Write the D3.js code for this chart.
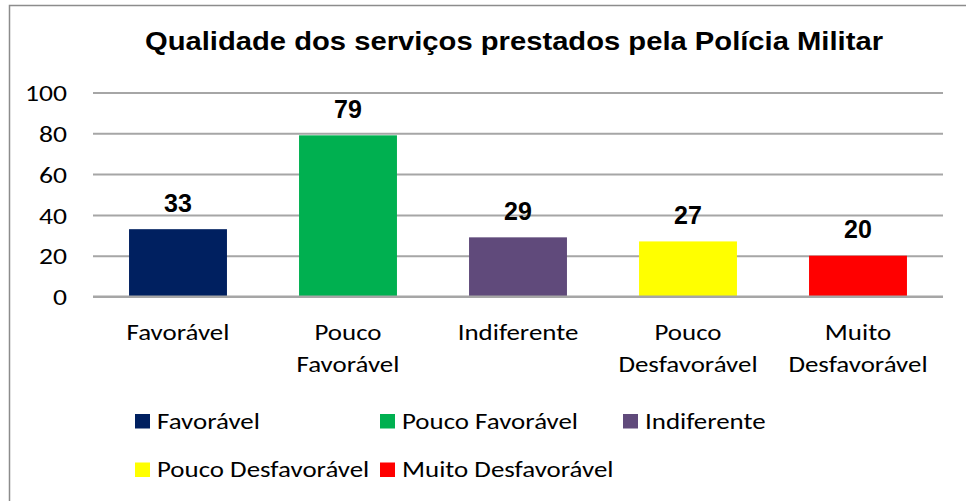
<!DOCTYPE html>
<html>
<head>
<meta charset="utf-8">
<script src="https://cdn.jsdelivr.net/npm/d3@7"></script>
<style>
  html, body { margin: 0; padding: 0; background: #fff; }
  svg { display: block; }
</style>
</head>
<body>
<svg id="chart" width="966" height="501"></svg>
<script>
const title = "Qualidade dos serviços prestados pela Polícia Militar";
const categories = ["Favorável", "Pouco Favorável", "Indiferente", "Pouco Desfavorável", "Muito Desfavorável"];
const values = [33, 79, 29, 27, 20];
const colors = ["#002060", "#00B050", "#604A7B", "#FFFF00", "#FF0000"];
const yTicks = [0, 20, 40, 60, 80, 100];

const svg = d3.select("#chart");
const W = 966, H = 501;
const plot = { left: 93, right: 943, top: 92.5, bottom: 296.5 };
const sansCal = "Carlito, Calibri, Lato, sans-serif";
const sansArial = "'Liberation Sans', Arial, sans-serif";
const calSize = 23;

// stretch a text node horizontally by factor k (Calibri-like width)
function stretch(node, k) {
  const len = node.getComputedTextLength();
  d3.select(node).attr("textLength", len * k).attr("lengthAdjust", "spacingAndGlyphs");
}

// outer frame
svg.append("rect")
  .attr("x", 9.5).attr("y", 5.5)
  .attr("width", W + 10).attr("height", H + 10)
  .attr("fill", "#fff").attr("stroke", "#8c8c8c").attr("stroke-width", 1.5);

// title
svg.append("text")
  .attr("x", 514).attr("y", 50)
  .attr("text-anchor", "middle")
  .attr("font-family", sansArial).attr("font-weight", "bold")
  .attr("font-size", 26)
  .attr("textLength", 738).attr("lengthAdjust", "spacingAndGlyphs")
  .attr("fill", "#000")
  .text(title);

const x = d3.scaleBand()
  .domain(categories)
  .range([plot.left, plot.right])
  .paddingInner(0.424)
  .paddingOuter(0.212);

const y = d3.scaleLinear().domain([0, 100]).range([plot.bottom, plot.top]);

// y axis with gridlines
const yAxis = d3.axisLeft(y)
  .tickValues(yTicks)
  .tickSize(-(plot.right - plot.left))
  .tickPadding(26)
  .tickFormat(d3.format("d"));

const gy = svg.append("g")
  .attr("transform", `translate(${plot.left},0)`)
  .call(yAxis);
gy.select(".domain").remove();
gy.selectAll(".tick line").attr("stroke", "#a6a6a6").attr("stroke-width", 2);
gy.selectAll(".tick text")
  .attr("font-family", sansCal).attr("font-size", calSize)
  .attr("fill", "#000").attr("dy", "0.36em")
  .each(function() { stretch(this, 1.2); });

// bars
svg.append("g").selectAll("rect")
  .data(categories)
  .join("rect")
  .attr("x", d => x(d))
  .attr("y", (d, i) => y(values[i]))
  .attr("width", x.bandwidth())
  .attr("height", (d, i) => y(0) - y(values[i]))
  .attr("fill", (d, i) => colors[i]);

// axis baseline on top
svg.append("line")
  .attr("x1", plot.left).attr("x2", plot.right)
  .attr("y1", y(0)).attr("y2", y(0))
  .attr("stroke", "#a6a6a6").attr("stroke-width", 2);

// value labels
svg.append("g").selectAll("text")
  .data(categories)
  .join("text")
  .attr("x", d => x(d) + x.bandwidth() / 2)
  .attr("y", (d, i) => y(values[i]) - 17.5)
  .attr("text-anchor", "middle")
  .attr("font-family", sansArial).attr("font-weight", "bold")
  .attr("font-size", 25).attr("fill", "#000")
  .text((d, i) => values[i]);

// category labels (wrapped)
const catG = svg.append("g");
categories.forEach(c => {
  const words = c.split(" ");
  words.forEach((w, j) => {
    catG.append("text")
      .attr("text-anchor", "middle")
      .attr("font-family", sansCal).attr("font-size", calSize)
      .attr("fill", "#000")
      .attr("x", x(c) + x.bandwidth() / 2)
      .attr("y", 339.5 + j * 32.5)
      .text(w)
      .each(function() { stretch(this, 1.17); });
  });
});

// legend
const legCols = [135, 380, 623];
const legRows = [414, 462.5];
const leg = svg.append("g");
categories.forEach((c, i) => {
  const col = i < 3 ? i : i - 3;
  const row = i < 3 ? 0 : 1;
  const lx = legCols[col], ly = legRows[row];
  leg.append("rect")
    .attr("x", lx).attr("y", ly)
    .attr("width", 15).attr("height", 14.5)
    .attr("fill", colors[i]);
  leg.append("text")
    .attr("x", lx + 22).attr("y", ly + 14.5)
    .attr("font-family", sansCal).attr("font-size", calSize)
    .attr("fill", "#000")
    .text(c)
    .each(function() { stretch(this, 1.17); });
});
</script>
</body>
</html>
